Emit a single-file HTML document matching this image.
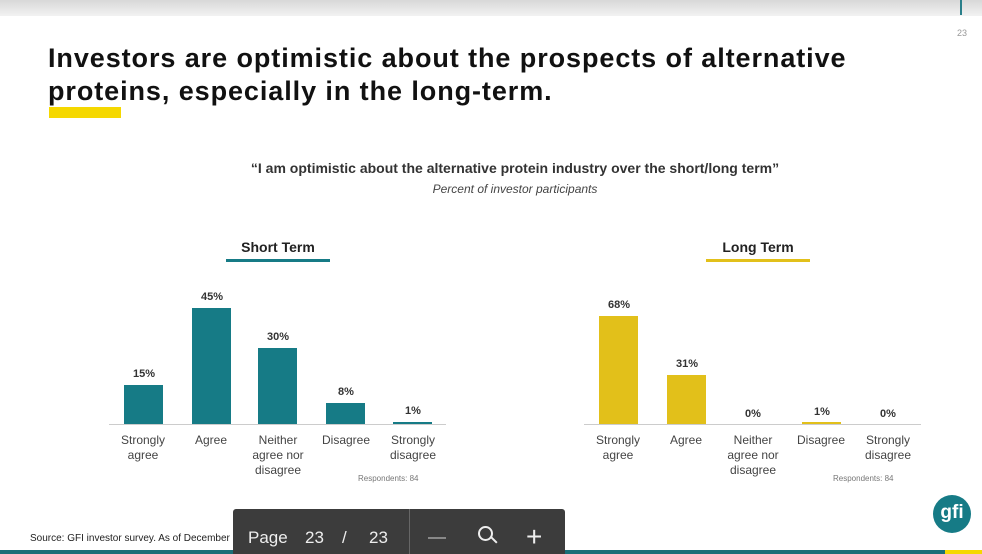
<!DOCTYPE html>
<html><head><style>
body{margin:0;width:982px;height:554px;background:#fff;position:relative;overflow:hidden;font-family:"Liberation Sans",sans-serif;}
.a{position:absolute;}
.t{position:absolute;font-size:12px;color:#444;text-align:center;line-height:15px;}
.v{position:absolute;font-size:11px;font-weight:bold;color:#333;text-align:center;width:40px;}
</style></head><body>
<div class="a" style="left:0;top:0;width:982px;height:16px;background:linear-gradient(#d8d8d8,#f2f2f2);"></div>
<div class="a" style="left:960px;top:0;width:2px;height:15px;background:#2a7f8a;"></div>
<div class="a" style="left:957px;top:28px;font-size:9px;color:#999;">23</div>
<div class="a" style="left:48px;top:42px;font-size:27px;font-weight:bold;color:#111;line-height:33px;letter-spacing:0.92px;">Investors are optimistic about the prospects of alternative<br>proteins, especially in the long-term.</div>
<div class="a" style="left:49px;top:107px;width:72px;height:11px;background:#f5d800;"></div>
<div class="a" style="left:0;top:160px;width:1030px;text-align:center;font-size:14px;font-weight:bold;color:#333;">“I am optimistic about the alternative protein industry over the short/long term”</div>
<div class="a" style="left:0;top:182px;width:1030px;text-align:center;font-size:12px;font-style:italic;color:#444;">Percent of investor participants</div>

<div class="a" style="left:200px;top:239px;width:156px;text-align:center;font-size:14px;font-weight:bold;color:#222;">Short Term</div>
<div class="a" style="left:226px;top:259px;width:104px;height:3px;background:#167b86;"></div>
<div class="a" style="left:680px;top:239px;width:156px;text-align:center;font-size:14px;font-weight:bold;color:#222;">Long Term</div>
<div class="a" style="left:706px;top:259px;width:104px;height:3px;background:#e2c01a;"></div>

<div class="a" style="left:109px;top:424px;width:337px;height:1px;background:#ccc;"></div>
<div class="a" style="left:584px;top:424px;width:337px;height:1px;background:#ccc;"></div>

<div class="a" style="left:124px;top:385px;width:39px;height:39px;background:#167b86;"></div>
<div class="a" style="left:192px;top:308px;width:39px;height:116px;background:#167b86;"></div>
<div class="a" style="left:258px;top:348px;width:39px;height:76px;background:#167b86;"></div>
<div class="a" style="left:326px;top:403px;width:39px;height:21px;background:#167b86;"></div>
<div class="a" style="left:393px;top:422px;width:39px;height:2px;background:#167b86;"></div>
<div class="v" style="left:124px;top:368px;">15%</div>
<div class="v" style="left:192px;top:291px;">45%</div>
<div class="v" style="left:258px;top:331px;">30%</div>
<div class="v" style="left:326px;top:386px;">8%</div>
<div class="v" style="left:393px;top:405px;">1%</div>

<div class="a" style="left:599px;top:316px;width:39px;height:108px;background:#e2c01a;"></div>
<div class="a" style="left:667px;top:375px;width:39px;height:49px;background:#e2c01a;"></div>
<div class="a" style="left:802px;top:422px;width:39px;height:2px;background:#e2c01a;"></div>
<div class="v" style="left:599px;top:299px;">68%</div>
<div class="v" style="left:667px;top:358px;">31%</div>
<div class="v" style="left:733px;top:408px;">0%</div>
<div class="v" style="left:802px;top:406px;">1%</div>
<div class="v" style="left:868px;top:408px;">0%</div>

<div class="t" style="left:113px;top:433px;width:60px;">Strongly<br>agree</div>
<div class="t" style="left:181px;top:433px;width:60px;">Agree</div>
<div class="t" style="left:243px;top:433px;width:70px;">Neither<br>agree nor<br>disagree</div>
<div class="t" style="left:313px;top:433px;width:66px;">Disagree</div>
<div class="t" style="left:382px;top:433px;width:62px;">Strongly<br>disagree</div>
<div class="a" style="left:358px;top:474px;font-size:8px;color:#777;">Respondents: 84</div>

<div class="t" style="left:588px;top:433px;width:60px;">Strongly<br>agree</div>
<div class="t" style="left:656px;top:433px;width:60px;">Agree</div>
<div class="t" style="left:718px;top:433px;width:70px;">Neither<br>agree nor<br>disagree</div>
<div class="t" style="left:788px;top:433px;width:66px;">Disagree</div>
<div class="t" style="left:857px;top:433px;width:62px;">Strongly<br>disagree</div>
<div class="a" style="left:833px;top:474px;font-size:8px;color:#777;">Respondents: 84</div>

<div class="a" style="left:30px;top:533px;font-size:10px;color:#222;">Source: GFI investor survey. As of December 2021</div>
<div class="a" style="left:0;top:550px;width:982px;height:4px;background:#1a6f78;"></div>
<div class="a" style="left:945px;top:550px;width:37px;height:4px;background:#f5d800;"></div>
<div class="a" style="left:933px;top:495px;width:38px;height:38px;border-radius:50%;background:#167b86;color:#fff;font-weight:bold;font-size:19px;text-align:center;line-height:36px;">gfi</div>

<div class="a" style="left:233px;top:509px;width:332px;height:45px;background:#3c3c3c;border-radius:3px 3px 0 0;color:#eee;font-size:17px;">
<span class="a" style="left:15px;top:19px;">Page</span>
<span class="a" style="left:72px;top:19px;">23</span>
<span class="a" style="left:109px;top:19px;">/</span>
<span class="a" style="left:136px;top:19px;">23</span>
<div class="a" style="left:176px;top:0;width:1px;height:45px;background:#666;"></div>
<div class="a" style="left:195px;top:28px;width:18px;height:2px;background:#888;"></div>
<div class="a" style="left:245px;top:17px;width:11px;height:11px;border:2px solid #eee;border-radius:50%;"></div>
<div class="a" style="left:257px;top:30px;width:8px;height:2px;background:#eee;transform:rotate(45deg);"></div>
<span class="a" style="left:293px;top:12px;font-size:28px;">+</span>
</div>
</body></html>
